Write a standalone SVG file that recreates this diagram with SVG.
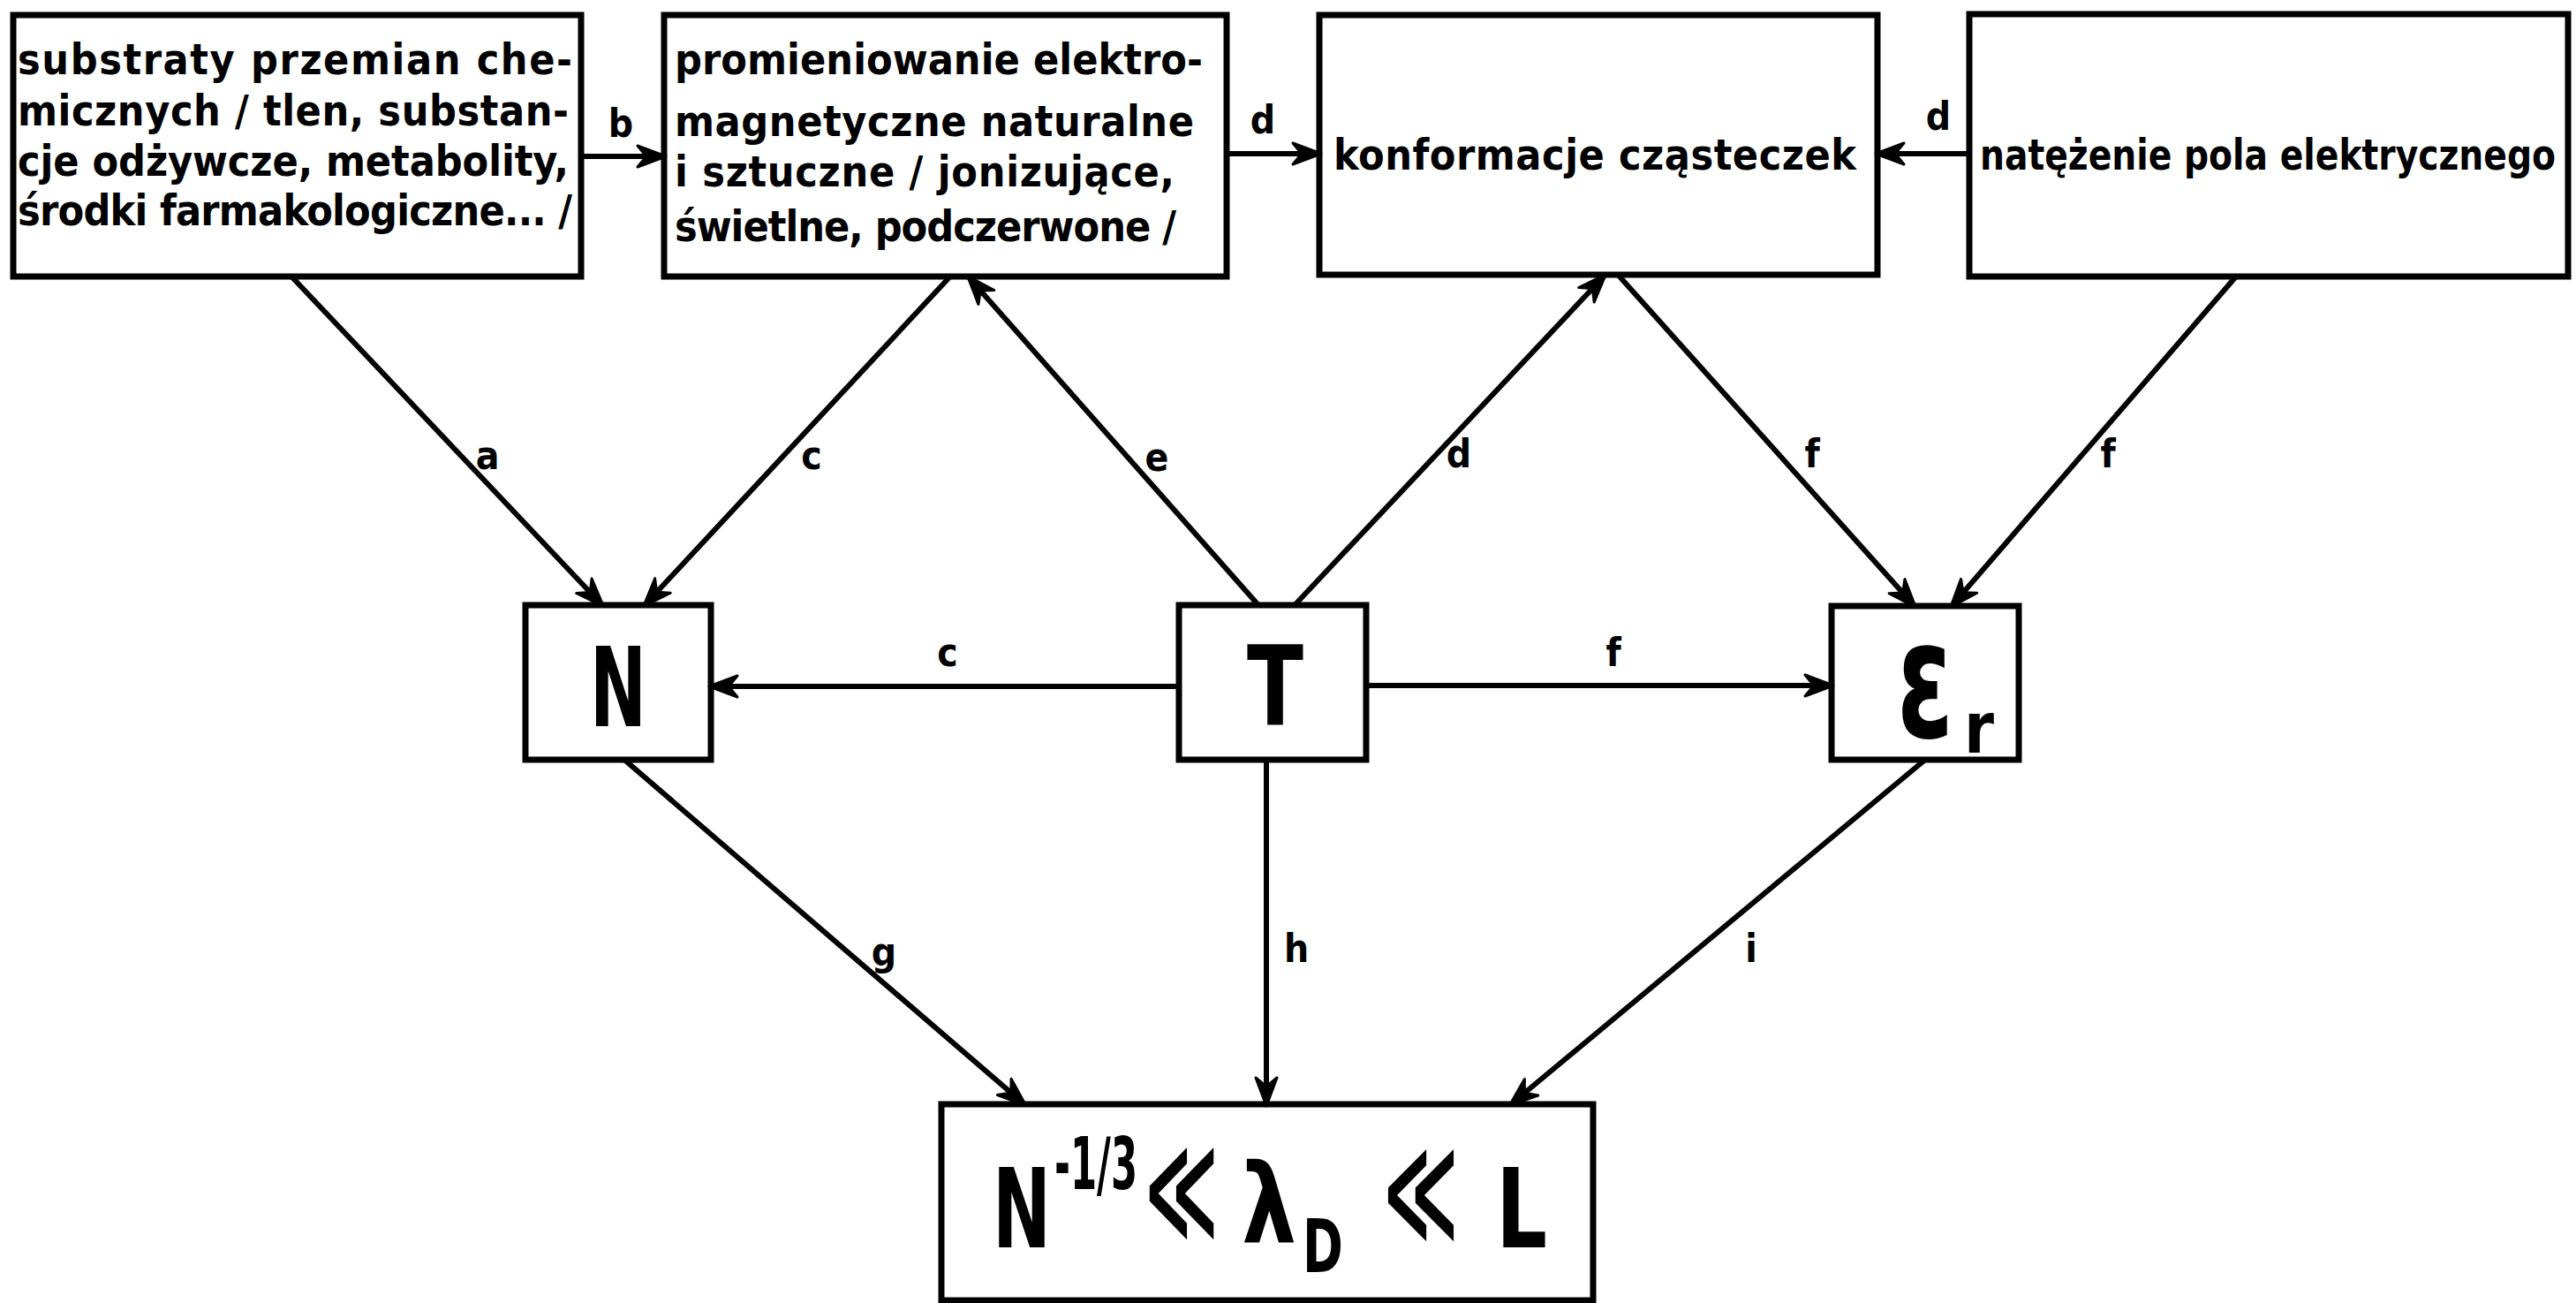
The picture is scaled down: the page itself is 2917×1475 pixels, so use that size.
<svg xmlns="http://www.w3.org/2000/svg" width="2917" height="1475" viewBox="0 0 2917 1475">
<style>
.box{fill:#fff;stroke:#000;stroke-width:7}
.t{font-family:"DejaVu Sans Condensed","Liberation Sans",sans-serif;font-weight:bold;font-size:48px;fill:#000}
.lbl{font-family:"DejaVu Sans Condensed","Liberation Sans",sans-serif;font-weight:bold;font-size:44px;fill:#000;text-anchor:middle}
.big{font-family:"DejaVu Sans Condensed","Liberation Sans",sans-serif;font-weight:bold;fill:#000}
.con{stroke:#000;stroke-width:6;fill:none;marker-end:url(#ah)}
</style>
<defs>
<marker id="ah" markerUnits="userSpaceOnUse" orient="auto" markerWidth="40" markerHeight="30" refX="0" refY="0" viewBox="-36 -15 40 30" overflow="visible">
<path d="M2,0 L-30,-12 L-20,0 L-30,12 Z" fill="#000" stroke="#000" stroke-width="3" stroke-linejoin="round"/>
</marker>
</defs>
<rect width="2917" height="1475" fill="#fff"/>
<g id="n-substraty">
<rect class="box" x="15" y="17" width="643" height="296"/>
<text class="t" x="20" y="84" textLength="628" lengthAdjust="spacing">substraty przemian che-</text>
<text class="t" x="20" y="142" textLength="624" lengthAdjust="spacing">micznych / tlen, substan-</text>
<text class="t" x="20" y="199" textLength="624" lengthAdjust="spacing">cje odżywcze, metabolity,</text>
<text class="t" x="20" y="255" textLength="628" lengthAdjust="spacing">środki farmakologiczne... /</text>
</g>
<g id="n-promieniowanie">
<rect class="box" x="752" y="17" width="637" height="296"/>
<text class="t" x="764" y="84" textLength="598" lengthAdjust="spacing">promieniowanie elektro-</text>
<text class="t" x="764" y="154" textLength="588" lengthAdjust="spacing">magnetyczne naturalne</text>
<text class="t" x="764" y="211" textLength="566" lengthAdjust="spacing">i sztuczne / jonizujące,</text>
<text class="t" x="764" y="273" textLength="568" lengthAdjust="spacing">świetlne, podczerwone /</text>
</g>
<g id="n-konformacje">
<rect class="box" x="1494" y="17" width="632" height="294"/>
<text class="t" x="1510" y="192" textLength="592" lengthAdjust="spacing">konformacje  cząsteczek</text>
</g>
<g id="n-natezenie">
<rect class="box" x="2230" y="16" width="678" height="297"/>
<text class="t" x="2242" y="192" font-size="44" textLength="652" lengthAdjust="spacingAndGlyphs">natężenie pola elektrycznego</text>
</g>
<g id="n-N">
<rect class="box" x="595" y="685" width="210" height="175"/>
<text class="big" x="668" y="822" font-size="125" textLength="64" lengthAdjust="spacingAndGlyphs">N</text>
</g>
<g id="n-T">
<rect class="box" x="1335" y="685" width="212" height="175"/>
<text class="big" x="1412" y="820" font-size="125" textLength="64" lengthAdjust="spacingAndGlyphs">T</text>
</g>
<g id="n-eps">
<rect class="box" x="2074" y="686" width="212" height="174"/>
<text class="big" x="2148" y="834" font-size="185" textLength="64" lengthAdjust="spacingAndGlyphs">ε</text>
<text class="big" x="2224" y="852" font-size="80" textLength="34" lengthAdjust="spacingAndGlyphs">r</text>
</g>
<g id="n-wynik">
<rect class="box" x="1066" y="1250" width="738" height="222"/>
<text class="big" x="1124" y="1412" font-size="125" textLength="66" lengthAdjust="spacingAndGlyphs">N</text>
<text class="big" x="1194" y="1346" font-size="82" textLength="94" lengthAdjust="spacingAndGlyphs">-1/3</text>
<text class="big" x="1296" y="1398" font-size="150" textLength="84" lengthAdjust="spacingAndGlyphs" font-family="DejaVu Sans,sans-serif" font-weight="normal">≪</text>
<text class="big" x="1406" y="1407" font-size="125" textLength="62" lengthAdjust="spacingAndGlyphs">λ</text>
<text class="big" x="1475" y="1440" font-size="84" textLength="46" lengthAdjust="spacingAndGlyphs">D</text>
<text class="big" x="1566" y="1400" font-size="150" textLength="86" lengthAdjust="spacingAndGlyphs" font-family="DejaVu Sans,sans-serif" font-weight="normal">≪</text>
<text class="big" x="1694" y="1412" font-size="125" textLength="58" lengthAdjust="spacingAndGlyphs">L</text>
</g>
<g id="connectors">
<line class="con" x1="658" y1="177" x2="752" y2="177"/>
<line class="con" x1="1389" y1="174" x2="1494" y2="174"/>
<line class="con" x1="2230" y1="174" x2="2126" y2="174"/>
<line class="con" x1="331" y1="314" x2="682" y2="685"/>
<line class="con" x1="1075" y1="314" x2="730" y2="685"/>
<line class="con" x1="1425" y1="685" x2="1097" y2="314"/>
<line class="con" x1="1466" y1="685" x2="1817" y2="312"/>
<line class="con" x1="1833" y1="312" x2="2168" y2="686"/>
<line class="con" x1="2532" y1="313" x2="2210" y2="686"/>
<line class="con" x1="1335" y1="777" x2="805" y2="777"/>
<line class="con" x1="1547" y1="776" x2="2074" y2="776"/>
<line class="con" x1="707" y1="860" x2="1160" y2="1250"/>
<line class="con" x1="1434" y1="860" x2="1434" y2="1250"/>
<line class="con" x1="2180" y1="860" x2="1711" y2="1250"/>
<g id="labels">
<text class="lbl" x="703" y="155">b</text>
<text class="lbl" x="1430" y="151">d</text>
<text class="lbl" x="2195" y="147">d</text>
<text class="lbl" x="552" y="531">a</text>
<text class="lbl" x="919" y="531">c</text>
<text class="lbl" x="1310" y="533">e</text>
<text class="lbl" x="1652" y="529">d</text>
<text class="lbl" x="2052" y="529">f</text>
<text class="lbl" x="2387" y="529">f</text>
<text class="lbl" x="1073" y="754">c</text>
<text class="lbl" x="1827" y="754">f</text>
<text class="lbl" x="1001" y="1093">g</text>
<text class="lbl" x="1468" y="1089">h</text>
<text class="lbl" x="1983" y="1089">i</text>
</g>
</g>
</svg>
